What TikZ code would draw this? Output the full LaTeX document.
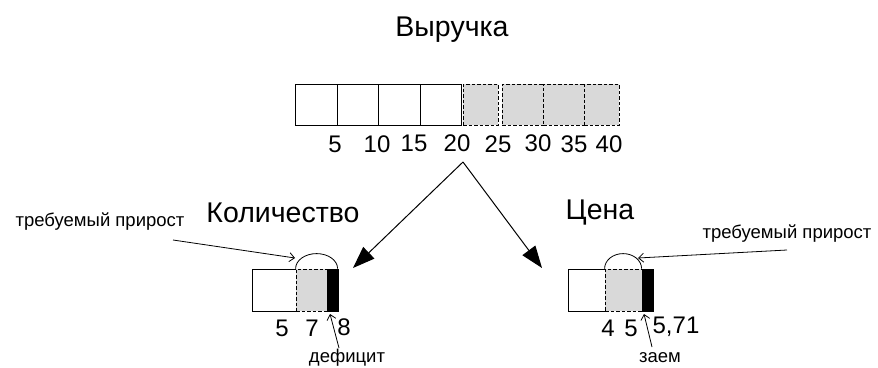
\documentclass[tikz,border=0pt]{standalone}
\usepackage{fontspec}
\setmainfont{Liberation Sans}
\usetikzlibrary{arrows.meta}

\begin{document}
\begin{tikzpicture} [
    x=1pt, y=-1pt,
    cell/.style     = { rectangle, draw, line width=0.8pt, inner sep=0pt, minimum height=41pt },
    addcell/.style  = { cell, dash pattern=on 3.5pt off 2pt, fill=gray!30 },
    defcell/.style  = { cell, fill=black },
    title/.style    = { inner sep=0pt, font=\fontsize{28.5}{28.5}\selectfont },
    num/.style      = { inner sep=0pt, font=\fontsize{24}{24}\selectfont },
    note/.style     = { inner sep=0pt, font=\fontsize{18.5}{18.5}\selectfont },
    line/.style     = { draw, line width=0.8pt, -{Straight Barb[length=5pt,width=9pt]} },
    bigline/.style  = { draw, line width=1pt, -{Triangle[length=22pt,width=16pt]} },
  ]
  \useasboundingbox (0,0) rectangle (878,367);

  % Define nodes: revenue bar
  \node[title] (revenue) at (452,30) {Выручка};
  \node[cell, minimum width=42pt] (w1) at (316,104.5) {};
  \node[cell, minimum width=41pt] (w2) at (357.5,104.5) {};
  \node[cell, minimum width=42pt] (w3) at (399,104.5) {};
  \node[cell, minimum width=41pt] (w4) at (440.5,104.5) {};
  \node[addcell, minimum width=35pt] (g1) at (480.5,104.5) {};
  \node[addcell, minimum width=41pt] (g2) at (522.5,104.5) {};
  \node[addcell, minimum width=41pt] (g3) at (563.5,104.5) {};
  \node[addcell, minimum width=35pt] (g4) at (601.5,104.5) {};
  \node[num] (n5)  at (335,144) {5};
  \node[num] (n10) at (377,144) {10};
  \node[num] (n15) at (414,143) {15};
  \node[num] (n20) at (457,143) {20};
  \node[num] (n25) at (498,144) {25};
  \node[num] (n30) at (538,143) {30};
  \node[num] (n35) at (574,144) {35};
  \node[num] (n40) at (609,144) {40};
  \coordinate (split) at (463,162);

  % Define nodes: quantity bar
  \node[title] (quantity) at (283,213) {Количество};
  \node[cell, minimum width=44pt, minimum height=42pt] (qw) at (274,290) {};
  \node[addcell, minimum width=31pt, minimum height=42pt] (qg) at (311.5,290) {};
  \node[defcell, minimum width=11pt, minimum height=42pt] (qb) at (332.5,290) {};
  \draw[line width=0.8pt] (qg.north west) arc[start angle=180, end angle=0, x radius=21pt, y radius=15pt];
  \node[num] (q5) at (282,328) {5};
  \node[num] (q7) at (312,328) {7};
  \node[num] (q8) at (344,327) {8};
  \node[note] (qneed) at (100,222) {требуемый прирост};
  \node[note] (qdef)  at (347,358) {дефицит};
  \coordinate (qdome) at (295,258);
  \coordinate (qdeftip) at (330,314);
  \coordinate (qdeftail) at (339,348);
  \coordinate (qneedtail) at (173,240);
  \coordinate (qin) at (353,268);

  % Define nodes: price bar
  \node[title] (price) at (600,213) {Цена};
  \node[cell, minimum width=37pt, minimum height=42pt] (pw) at (586.5,290) {};
  \node[addcell, minimum width=37pt, minimum height=42pt] (pg) at (623.5,290) {};
  \node[defcell, minimum width=11pt, minimum height=42pt] (pb) at (647.5,290) {};
  \draw[line width=0.8pt] (pg.north west) arc[start angle=180, end angle=0, x radius=18.5pt, y radius=15pt];
  \node[num] (p4) at (608,328) {4};
  \node[num] (p5) at (631,328) {5};
  \node[num] (p571) at (676,327) {5,71};
  \node[note] (pneed) at (787,234) {требуемый прирост};
  \node[note] (ploan) at (660,358) {заем};
  \coordinate (pdome) at (638,258);
  \coordinate (ploantip) at (644,314);
  \coordinate (ploantail) at (652,347);
  \coordinate (pneedtail) at (787,250);
  \coordinate (pin) at (542,268);

  % connect the nodes
  \path [bigline] (split) -- (qin);
  \path [bigline] (split) -- (pin);
  \path [line] (qneedtail) -- (qdome);
  \path [line] (qdeftail) -- (qdeftip);
  \path [line] (pneedtail) -- (pdome);
  \path [line] (ploantail) -- (ploantip);
\end{tikzpicture}
\end{document}
